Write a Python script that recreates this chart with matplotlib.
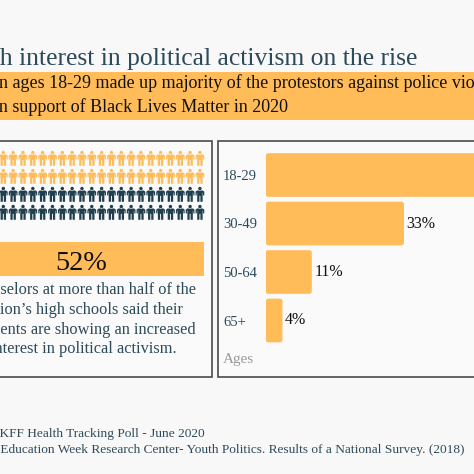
import numpy as np
import matplotlib
matplotlib.use("Agg")
import matplotlib.pyplot as plt
from matplotlib.path import Path
from matplotlib.patches import Rectangle, FancyBboxPatch

# ---- data ----
age_groups = ["18-29", "30-49", "50-64", "65+"]
protest_share = [52, 33, 11, 4]
counselor_share = 52          # % of high schools
n_icons = 100
icon_cols = 25

title = "Youth interest in political activism on the rise"
subtitle_1 = "Young adults in ages 18-29 made up majority of the protestors against police violence and"
subtitle_2 = "in support of Black Lives Matter in 2020"
note_lines = ["Counselors at more than half of the",
              "nation\u2019s high schools said their",
              "students are showing an increased",
              "interest in political activism."]
sources = ["1. KFF Health Tracking Poll - June 2020",
           "2. Education Week Research Center- Youth Politics. Results of a National Survey. (2018)"]

# ---- style ----
ORANGE = "#ffbc59"
NAVY = "#203f4e"
SLATE = "#2d4a5a"
BG = "#f8f8f8"
plt.rcParams["font.family"] = "Liberation Serif"

W = H = 474
fig = plt.figure(figsize=(4.74, 4.74), dpi=100, facecolor=BG)
renderer = fig.canvas.get_renderer()


def fx(x):
    return x / W


def fy(y):
    return 1 - y / H


def rect(x0, y0, x1, y1, **kw):
    r = Rectangle((fx(x0), fy(y1)), (x1 - x0) / W, (y1 - y0) / H,
                  transform=fig.transFigure, **kw)
    fig.add_artist(r)
    return r


def text_width(s, size):
    t = fig.text(0, 0, s, fontsize=size)
    w = t.get_window_extent(renderer).width
    t.remove()
    return w


def fit(s, width, size=12):
    # font size so that string s is about `width` pixels wide
    return size * width / text_width(s, size)


def put(full, start, x_vis, y, size, **kw):
    # left-aligned text placed so that the substring `start` begins at x_vis
    tail = full[full.index(start):]
    x0 = x_vis - (text_width(full, size) - text_width(tail, size))
    return fig.text(fx(x0), fy(y), full, ha="left", va="baseline",
                    fontsize=size, **kw)


# title + orange banner
t_size = fit("h interest in political activism on the rise", 416)
put(title, "h interest", -0.5, 65, t_size, color=SLATE)
rect(-10, 72, 490, 119.5, facecolor=ORANGE, edgecolor="none")
sub_size = fit("n support of Black Lives Matter in 2020", 289)
put(subtitle_1, "n ages", -1, 88, sub_size, color="#111111")
put(subtitle_2, "n support", -1, 112, sub_size, color="#111111")

# panel frames
rect(-60, 141, 211.7, 376.7, facecolor="#fafafa", edgecolor="#4a4a4a",
     linewidth=1.2, zorder=-1)
rect(218.3, 141, 600, 376.5, facecolor="#fafafa", edgecolor="#4a4a4a",
     linewidth=1.2, zorder=-1)

# ---- left panel: icon array ----
head = Path.circle((0, 0.37), 0.11)
body = Path([(-0.18, 0.245), (0.18, 0.245), (0.28, 0.17), (0.28, -0.07),
             (0.20, -0.07), (0.20, 0.10), (0.175, 0.10), (0.175, -0.48),
             (0.03, -0.48), (0.03, -0.10), (-0.03, -0.10), (-0.03, -0.48),
             (-0.175, -0.48), (-0.175, 0.10), (-0.20, 0.10), (-0.20, -0.07),
             (-0.28, -0.07), (-0.28, 0.17), (-0.18, 0.245)], closed=True)
person = Path.make_compound_path(head, body)

step = 9.83
ax_ic = fig.add_axes([fx(-36 - step / 2), fy(149.3 + 72),
                      icon_cols * step / W, 72 / H])
idx = np.arange(n_icons)
cols = idx % icon_cols
rows = idx // icon_cols
colors = np.where(idx < counselor_share, ORANGE, NAVY)
ax_ic.scatter(cols, rows, marker=person, s=116, c=colors, linewidths=0)
ax_ic.set_xlim(-0.5, icon_cols - 0.5)
ax_ic.set_ylim(n_icons // icon_cols - 0.5, -0.5)
ax_ic.axis("off")

rect(-42, 241.7, 204, 275.7, facecolor=ORANGE, edgecolor="none")
fig.text(fx(81), fy(270), f"{counselor_share}%", ha="center", va="baseline",
         fontsize=fit(f"{counselor_share}%", 52), color="#111111")
note_size = (fit("selors at more than half of the", 198)
             + fit("terest in political activism.", 171)) / 2
note_starts = [("selors", 0), ("ion", 0.5), ("ents", 0), ("terest", 2.7)]
for i, (line, (start, xs)) in enumerate(zip(note_lines, note_starts)):
    put(line, start, xs, 294 + 19.8 * i, note_size, color=SLATE)

# ---- right panel: bar chart ----
px_per_pct = 4.19
ax_w = 250
row_h = 48.5
ax = fig.add_axes([fx(265.7), fy(150.75 + 4 * row_h), ax_w / W, 4 * row_h / H])
ax.set_facecolor("none")
ypos = np.arange(len(age_groups))
bars = ax.barh(ypos, protest_share, height=0.9, color=ORANGE)
# swap plain bars for ones with slightly rounded corners
r_x = 2.5 / px_per_pct
for b in bars:
    b.set_visible(False)
    ax.add_patch(FancyBboxPatch((b.get_x(), b.get_y()), b.get_width(),
                                b.get_height(),
                                boxstyle=f"round,pad=0,rounding_size={r_x}",
                                mutation_aspect=(2.5 / row_h) / r_x,
                                facecolor=ORANGE, edgecolor="none"))
for y, v in zip(ypos, protest_share):
    ax.text(v + 0.65, y, f"{v}%", ha="left", va="center", fontsize=11.5,
            color="#111111")
ax.set_xlim(0, ax_w / px_per_pct)
ax.set_ylim(len(age_groups) - 0.5, -0.5)
ax.set_xticks([])
ax.set_yticks(ypos)
ax.set_yticklabels(age_groups, fontsize=10.5, color=SLATE)
ax.tick_params(axis="y", length=0, pad=(265.7 - 223) * 72 / 100)
for lab in ax.get_yticklabels():
    lab.set_horizontalalignment("left")
for s in ax.spines.values():
    s.set_visible(False)
fig.text(fx(223), fy(360), "Ages", ha="left", va="center", fontsize=11,
         color="#9a9a9a")

# ---- sources ----
src_size = fit(sources[1][3:], 462)
put(sources[0], "KFF", -1, 437.3, src_size, color=SLATE)
put(sources[1], "Education", 0, 453.3, src_size, color=SLATE)

fig.savefig("out.png", dpi=100, facecolor=BG)
